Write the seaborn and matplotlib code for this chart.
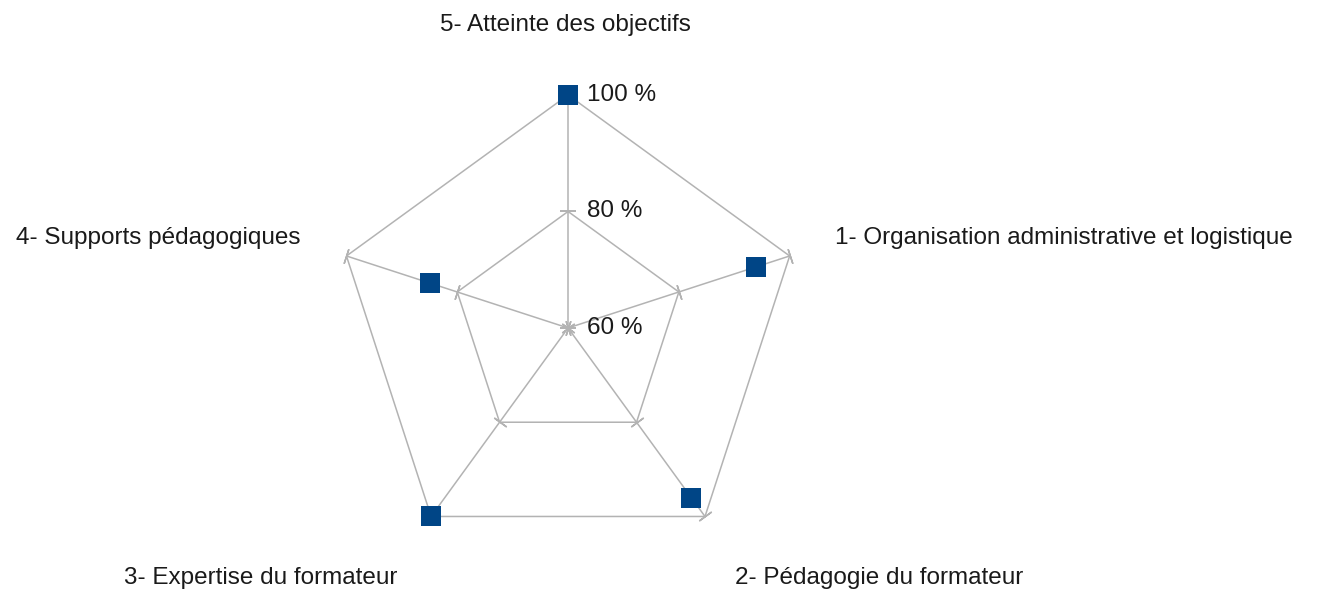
import numpy as np
import pandas as pd
import seaborn as sns
import matplotlib

matplotlib.use("Agg")
import matplotlib.pyplot as plt

sns.set_theme(style="white")
plt.rcParams["font.family"] = ["Liberation Sans", "DejaVu Sans"]

# data, clockwise from the top
categories = [
    "5- Atteinte des objectifs",
    "1- Organisation administrative et logistique",
    "2- Pédagogie du formateur",
    "3- Expertise du formateur",
    "4- Supports pédagogiques",
]
scores = [100, 94, 96, 100, 85]
levels = [60, 80, 100]
level_labels = ["60 %", "80 %", "100 %"]

GRID = "#b3b3b3"
BLUE = "#004586"

n = len(categories)
theta = np.arange(n) * 2 * np.pi / n
df = pd.DataFrame({"theta": theta, "score": scores, "category": categories})

fig = plt.figure(figsize=(13.28, 5.94), dpi=100)
ax = fig.add_axes([0.2523, 0.0556, 0.3509, 0.7845], projection="polar")
ax.set_theta_offset(np.pi / 2)
ax.set_theta_direction(-1)
ax.set_ylim(levels[0], levels[-1])
ax.grid(False)
ax.spines["polar"].set_visible(False)
ax.set_xticks([])
ax.set_yticks([])
ax.patch.set_alpha(0)

# spokes
for t in theta:
    ax.plot([t, t], [levels[0], levels[-1]], color=GRID, lw=1.1, zorder=1)

# pentagon grid
closed = np.append(theta, theta[0])
for lv in levels[1:]:
    ax.plot(closed, [lv] * (n + 1), color=GRID, lw=1.1, zorder=1)

# small tick marks across each spoke
for t in theta:
    phi = np.degrees(np.pi / 2 - t)
    for lv in levels:
        ax.plot([t], [lv], marker=(2, 2, phi), ms=11, mew=1.1,
                color=GRID, clip_on=False, zorder=1)

# data points
sns.scatterplot(data=df, x="theta", y="score", ax=ax, marker="s", s=200,
                color=BLUE, edgecolor=BLUE, linewidth=0, legend=False,
                clip_on=False, zorder=3)
ax.set_xlabel("")
ax.set_ylabel("")

# radial value labels
for lv, lab in zip(levels, level_labels):
    ax.annotate(lab, xy=(0, lv), xytext=(19, 0), textcoords="offset pixels",
                ha="left", va="center", fontsize=17.5, color="#1a1a1a",
                annotation_clip=False)

# category labels
offsets = [(-3, 70, "center"), (45, 18, "left"), (174, -62, "center"),
           (-170, -62, "center"), (-46, 18, "right")]
for t, lab, (dx, dy, ha) in zip(theta, categories, offsets):
    ax.annotate(lab, xy=(t, levels[-1]), xytext=(dx, dy),
                textcoords="offset pixels", ha=ha, va="center",
                fontsize=17.5, color="#1a1a1a", annotation_clip=False)

fig.savefig("out.png", dpi=100)
